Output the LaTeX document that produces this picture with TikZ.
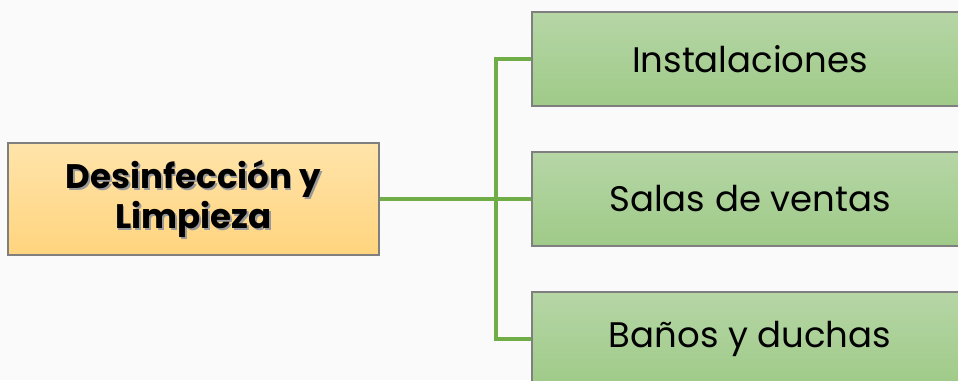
\documentclass[tikz,border=0pt]{standalone}
\usepackage{fontspec}
\setmainfont{Poppins}
\usetikzlibrary{positioning, calc}
\definecolor{pageGray}{HTML}{FAFAFA}
\definecolor{edgeGray}{HTML}{7F7F7F}
\definecolor{linkGreen}{HTML}{70AD47}
\definecolor{leafTop}{HTML}{B6D6A6}
\definecolor{leafBottom}{HTML}{9FCA88}
\definecolor{rootTop}{HTML}{FFE4AA}
\definecolor{rootBottom}{HTML}{FFD47E}

\begin{document}
\begin{tikzpicture}[x=1pt, y=1pt,
    rootbox/.style={draw=edgeGray, line width=1.3pt, top color=rootTop, bottom color=rootBottom,
        minimum width=371pt, minimum height=112pt},
    roottext/.style={align=center, font=\bfseries\fontsize{34}{40}\selectfont},
    leafbox/.style={draw=edgeGray, line width=1.3pt, top color=leafTop, bottom color=leafBottom,
        minimum width=436pt, minimum height=94pt, font=\fontsize{35.5}{40}\selectfont},
    link/.style={draw=linkGreen, line width=3.2pt}]
        % Page
        \fill[pageGray] (0,0) rectangle (958,380);
        \useasboundingbox (0,0) rectangle (958,380);
        \clip (0,0) rectangle (958,380);

        % Root box
        \node[rootbox] (desinf) at (193.5,181) {};
        \node[roottext, text=black!40] (desinfshadow) at (195,179.5) {Desinfección y\\Limpieza};
        \node[roottext] (desinftext) at (193.5,181) {Desinfección y\\Limpieza};

        % Leaf boxes
        \node[leafbox] (inst) at (750,321) {Instalaciones};
        \node[leafbox] (salas) at (750,181) {Salas de ventas};
        \node[leafbox] (banos) at (750,41) {Baños y duchas};

        % Connectors
        \coordinate (fork) at (496,181);
        \draw[link] (desinf.east) -- (salas.west);
        \draw[link] (fork) |- (inst.west);
        \draw[link] (fork) |- (banos.west);
    \end{tikzpicture}
\end{document}
